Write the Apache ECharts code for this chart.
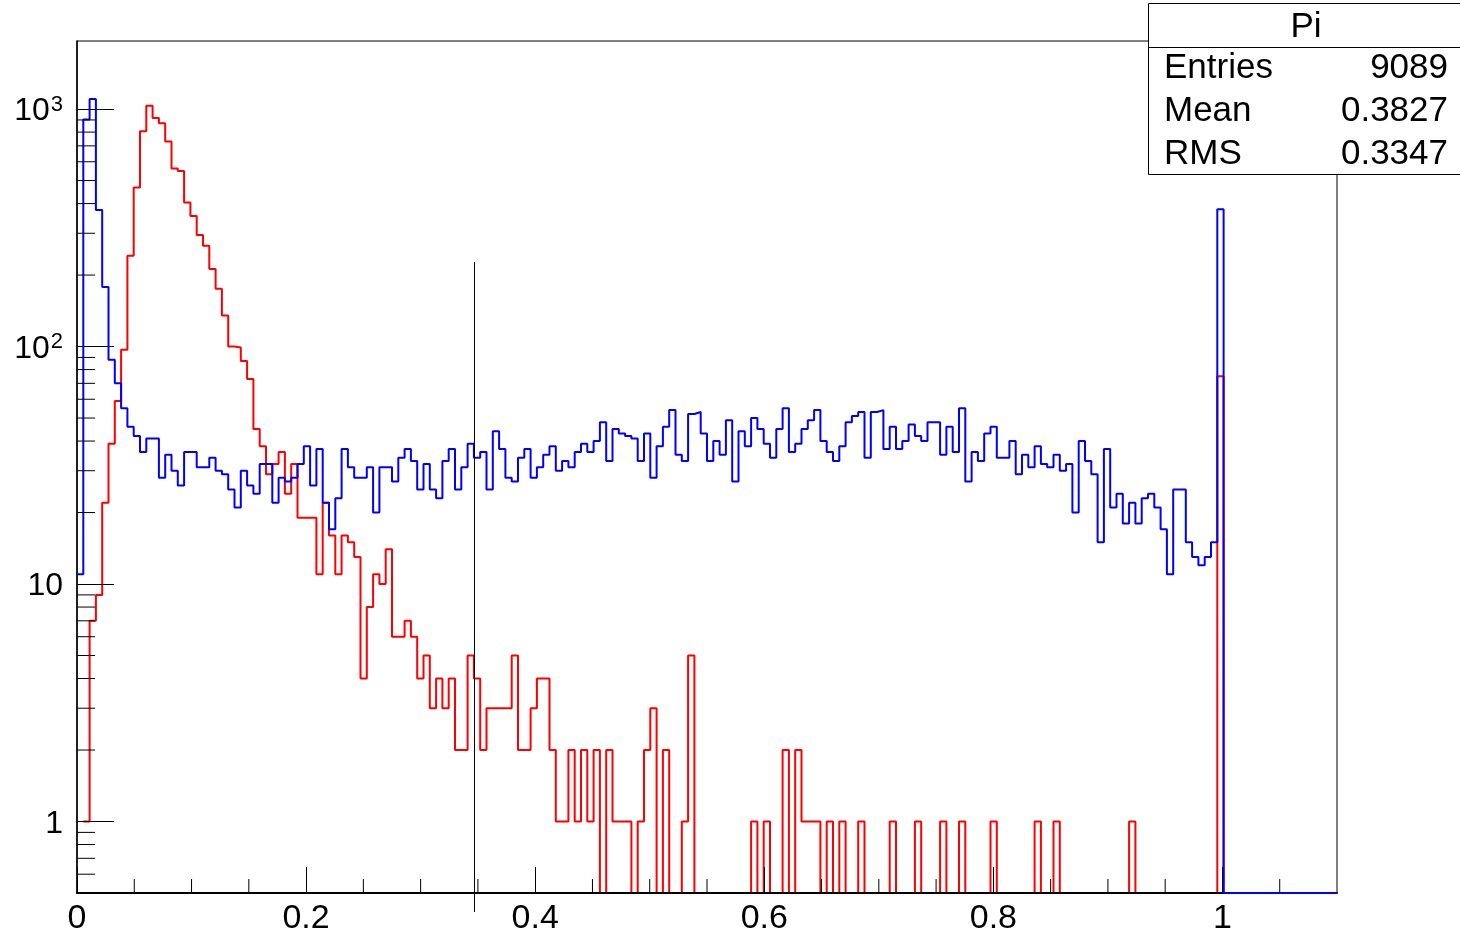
<!DOCTYPE html>
<html>
<head>
<meta charset="utf-8">
<script src="https://cdn.jsdelivr.net/npm/echarts@6/dist/echarts.min.js"></script>
<style>
html,body{margin:0;padding:0;background:#fff;}
#chart{width:1460px;height:936px;}
</style>
</head>
<body>
<div id="chart"></div>
<script>
// ---- data ----
const xMin = 0, xMax = 1.1, nBins = 200;
const yMin = 0.5, yMax = 1935;
const xTickLabels = ['0', '0.2', '0.4', '0.6', '0.8', '1'];

// blue histogram "Pi" (counts per bin)
const piCounts = [
  11, 903, 1102, 376, 178, 88, 70, 55, 46, 42, 36, 41, 41, 28, 35, 30, 26, 36, 36, 31,
  31, 34, 30, 29, 25, 21, 30, 26, 24, 32, 32, 22, 28, 27, 28, 32, 38, 26, 37, 22,
  17, 23, 37, 31, 28, 28, 31, 20, 31, 31, 27, 34, 37, 33, 25, 32, 25, 23, 33, 37,
  25, 31, 39, 34, 36, 25, 44, 37, 28, 27, 34, 37, 28, 31, 35, 38, 30, 33, 31, 36,
  39, 36, 40, 48, 33, 45, 43, 42, 41, 33, 43, 28, 38, 46, 54, 35, 33, 52, 53, 43,
  33, 40, 35, 49, 27, 44, 38, 50, 45, 39, 34, 45, 55, 36, 39, 45, 49, 54, 40, 36,
  33, 38, 48, 51, 53, 34, 53, 54, 37, 46, 37, 40, 47, 42, 40, 48, 48, 35, 46, 36,
  55, 27, 36, 33, 43, 46, 34, 34, 40, 29, 35, 31, 38, 32, 31, 35, 30, 32, 20, 40,
  33, 29, 15, 37, 21, 24, 18, 22, 18, 23, 24, 21, 17, 11, 25, 25, 15, 13, 12, 13,
  15, 379, 0, 0, 0, 0, 0, 0, 0, 0, 0, 0, 0, 0, 0, 0, 0, 0, 0, 0
];

// red histogram (counts per bin)
const redCounts = [
  null, 1, 7, 9, 22, 39, 59, 97, 241, 467, 807, 1033, 918, 871, 730, 562, 548, 404, 355, 295,
  266, 212, 175, 135, 100, 99, 87, 73, 45, 38, 29, 32, 36, 24, 32, 19, 19, 19, 11, 22,
  16, 11, 16, 15, 13, 4, 8, 11, 10, 14, 6, 6, 7, 6, 4, 5, 3, 4, 3, 4,
  2, 2, 5, 4, 2, 3, 3, 3, 3, 5, 2, 2, 3, 4, 4, 2, 1, 1, 2, 1,
  2, 1, 2, 0, 2, 1, 1, 1, 0, 1, 2, 3, 0, 2, 0, 0, 1, 5, 0, 0,
  0, 0, 0, 0, 0, 0, 0, 1, 0, 1, 0, 0, 2, 0, 2, 1, 1, 1, 0, 1,
  0, 1, 0, 0, 1, 0, 0, 0, 0, 1, 0, 0, 0, 1, 0, 0, 0, 1, 0, 0,
  1, 0, 0, 0, 0, 1, 0, 0, 0, 0, 0, 0, 1, 0, 0, 1, 0, 0, 0, 0,
  0, 0, 0, 0, 0, 0, 0, 1, 0, 0, 0, 0, 0, 0, 0, 0, 0, 0, 0, 0,
  0, 75, 0, 0, 0, 0, 0, 0, 0, 0, 0, 0, 0, 0, 0, 0, 0, 0, 0, 0
];

// vertical cut line
const cutLine = { x: 0.347, top: 227 };

// stats box
const statsTitle = 'Pi';
const statsRows = [['Entries', '9089'], ['Mean', '0.3827'], ['RMS', '0.3347']];

// ---- build ----
const binWidth = (xMax - xMin) / nBins;
function stepData(vals) {
  const pts = [];
  vals.forEach((v, i) => {
    if (v === null) return;
    const y = v > 0 ? v : yMin;
    pts.push([xMin + i * binWidth, y], [xMin + (i + 1) * binWidth, y]);
  });
  return pts;
}
const yMinor = [];
for (let e = -1; e <= 3; e++) {
  for (let m = 2; m <= 9; m++) {
    const v = m * Math.pow(10, e);
    if (v > yMin && v < yMax) yMinor.push(v);
  }
}
const xMinor = [];
for (let k = 1; k * 0.05 < xMax - 1e-9; k++) {
  if (k % 4 !== 0) xMinor.push(+(k * 0.05).toFixed(2));
}
const FONT = '"Liberation Sans", Arial, Helvetica, sans-serif';

const chart = echarts.init(document.getElementById('chart'));
chart.setOption({
  animation: false,
  backgroundColor: '#fff',
  grid: { left: 77, right: 123, top: 41, bottom: 40, show: true, borderColor: '#000', borderWidth: 1, backgroundColor: 'transparent' },
  xAxis: {
    type: 'value', min: xMin, max: xMax, interval: 0.2, z: 3,
    axisLine: { lineStyle: { color: '#000', width: 2 } },
    axisTick: { inside: true, length: 26, lineStyle: { color: '#000', width: 1 } },
    splitLine: { show: false },
    axisLabel: {
      margin: 9, color: '#000', fontSize: 34, fontFamily: FONT, showMaxLabel: false,
      formatter: v => { const i = Math.round(v / 0.2); return Math.abs(v - i * 0.2) < 1e-6 ? (xTickLabels[i] || '') : ''; }
    }
  },
  yAxis: {
    type: 'log', logBase: 10, min: yMin, max: yMax, z: 3,
    axisLine: { lineStyle: { color: '#000', width: 1.5 } },
    axisTick: { inside: true, length: 37, lineStyle: { color: '#000', width: 1 } },
    splitLine: { show: false },
    axisLabel: {
      margin: 14, color: '#000', fontSize: 32, fontFamily: FONT, showMinLabel: false, showMaxLabel: false,
      padding: [5, 0, 0, 0],
      formatter: v => {
        const e = Math.round(Math.log10(v));
        if (Math.abs(Math.log10(v) - e) > 1e-6) return '';
        if (e === 0) return '1';
        if (e === 1) return '10';
        return '{b|10}{s|' + e + '}';
      },
      rich: {
        b: { fontSize: 32, fontFamily: FONT, color: '#000' },
        s: { fontSize: 22, fontFamily: FONT, color: '#000', verticalAlign: 'bottom', padding: [0, 0, 14, 1] }
      }
    }
  },
  series: [
    {
      name: 'red', type: 'line', z: 2, data: stepData(redCounts), showSymbol: false, symbol: 'none',
      lineStyle: { color: '#ff0000', width: 2 }, silent: true
    },
    {
      name: 'Pi', type: 'line', z: 4, data: stepData(piCounts), showSymbol: false, symbol: 'none',
      lineStyle: { color: '#0000ff', width: 2 }, silent: true
    },
    {
      type: 'custom', z: 5, silent: true, clip: false,
      data: yMinor.map(v => [xMin, v]),
      renderItem: (params, api) => {
        const p = api.coord([api.value(0), api.value(1)]);
        return { type: 'line', shape: { x1: p[0], y1: p[1], x2: p[0] + 18, y2: p[1] }, style: { stroke: '#000', lineWidth: 1 } };
      }
    },
    {
      type: 'custom', z: 5, silent: true, clip: false,
      data: xMinor.map(v => [v, yMin]),
      renderItem: (params, api) => {
        const p = api.coord([api.value(0), api.value(1)]);
        return { type: 'line', shape: { x1: p[0], y1: p[1], x2: p[0], y2: p[1] - 14 }, style: { stroke: '#000', lineWidth: 1 } };
      }
    },
    {
      type: 'custom', z: 6, silent: true, clip: false,
      data: [[cutLine.x, cutLine.top]],
      renderItem: (params, api) => {
        const t = api.coord([api.value(0), api.value(1)]);
        const b = api.coord([api.value(0), yMin]);
        return { type: 'line', shape: { x1: t[0], y1: t[1], x2: t[0], y2: b[1] + 19 }, style: { stroke: '#000', lineWidth: 1 } };
      }
    }
  ],
  graphic: [
    { type: 'rect', z: 100, shape: { x: 1148.5, y: 3.5, width: 330, height: 171 }, style: { fill: '#fff', stroke: '#000', lineWidth: 1 } },
    { type: 'line', z: 101, shape: { x1: 1148, y1: 47.5, x2: 1460, y2: 47.5 }, style: { stroke: '#000', lineWidth: 1 } },
    { type: 'text', z: 102, x: 1306, y: 27, style: { text: statsTitle, fontSize: 35, fontFamily: FONT, fill: '#000', align: 'center', verticalAlign: 'middle' } },
    ...statsRows.flatMap((r, i) => [
      { type: 'text', z: 102, x: 1164, y: 68 + i * 43, style: { text: r[0], fontSize: 35, fontFamily: FONT, fill: '#000', align: 'left', verticalAlign: 'middle' } },
      { type: 'text', z: 102, x: 1448, y: 68 + i * 43, style: { text: r[1], fontSize: 35, fontFamily: FONT, fill: '#000', align: 'right', verticalAlign: 'middle' } }
    ])
  ]
});
</script>
</body>
</html>
